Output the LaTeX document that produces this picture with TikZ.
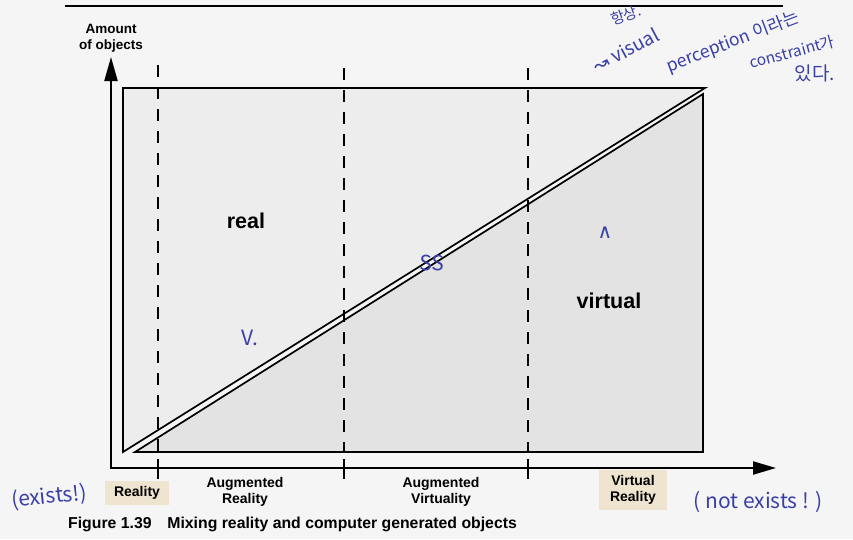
\documentclass[tikz,border=0pt]{standalone}
\usepackage{fontspec}
\setmainfont{Liberation Sans}
\newfontfamily\handfont{Noto Sans CJK KR}
\newfontfamily\symfont{DejaVu Sans}
\usetikzlibrary{arrows.meta}
\definecolor{PageGray}{HTML}{F5F5F5}
\definecolor{RealFill}{HTML}{EDEDED}
\definecolor{VirtFill}{HTML}{E3E3E3}
\definecolor{MarkerBeige}{HTML}{EEE4D0}
\definecolor{PenBlue}{HTML}{3A3FA8}
\tikzset{
    % regions - sharp corners
    realtri/.style={
        draw=black,
        line width=1.7,
        fill=RealFill,
        line join=miter
    },
    virttri/.style={
        draw=black,
        line width=1.7,
        fill=VirtFill,
        line join=miter
    },
    % lines
    divider/.style={
        draw=black,
        line width=1.6,
        dash pattern=on 12pt off 10pt
    },
    tickmark/.style={
        draw=black,
        line width=1.6
    },
    axisline/.style={
        draw=black,
        line width=2.2,
        line join=miter,
        {Triangle[length=24pt,width=13pt]}-{Triangle[length=23pt,width=13pt]}
    },
    % text
    axislabel/.style={
        align=center,
        font=\bfseries\fontsize{13.5}{16}\selectfont
    },
    arealabel/.style={
        font=\bfseries\fontsize{21.5}{24}\selectfont
    },
    scalelabel/.style={
        align=center,
        inner sep=0pt,
        font=\bfseries\fontsize{14}{16}\selectfont
    },
    marker/.style={
        fill=MarkerBeige,
        inner xsep=9pt,
        inner ysep=5pt
    },
    captiontext/.style={
        anchor=west,
        inner sep=0pt,
        font=\bfseries\fontsize{15.8}{18}\selectfont
    },
    note/.style={
        text=PenBlue,
        inner sep=0pt,
        font=\handfont\fontsize{21}{24}\selectfont
    }
}
\begin{document}
\begin{tikzpicture}[x=1pt,y=-1pt]
    \fill[PageGray] (0,0) rectangle (853,539);
    \useasboundingbox (0,0) rectangle (853,539);

    \draw[line width=1.6] (65,6) -- (783,6);

    % real and virtual parts
    \draw[realtri] (123,88) -- (705,88) -- (123,452) -- cycle;
    \draw[virttri] (703,94) -- (703,452) -- (135,452) -- cycle;

    % continuum borders
    \draw[divider] (158,65) -- (158,452);
    \draw[divider] (344,68) -- (344,452);
    \draw[divider] (528,68) -- (528,452);

    % axes
    \coordinate (ytop) at (111,57);
    \coordinate (origin) at (111,468);
    \coordinate (xend) at (776,468);
    \draw[axisline] (ytop) -- (origin) -- (xend);
    \foreach \x in {158,344,528}
        \draw[tickmark] (\x,459) -- (\x,479);

    \node[axislabel] (amount) at (111,38) {Amount\\of objects};
    \node[arealabel] (real) at (246,221) {real};
    \node[arealabel] (virtual) at (609,301) {virtual};

    \node[scalelabel,marker] (reality) at (137,493) {Reality};
    \node[scalelabel] (augreal) at (245,492) {Augmented\\Reality};
    \node[scalelabel] (augvirt) at (441,492) {Augmented\\Virtuality};
    \node[scalelabel,marker,inner xsep=11pt] (virtreal) at (633,490) {Virtual\\Reality};

    \node[captiontext] (caption) at (68,524) {Figure 1.39\hspace{1em}Mixing reality and computer generated objects};

    % pen notes
    \node[note,rotate=6] (exists) at (49,497) {(exists!)};
    \node[note] (notexists) at (758,502) {( not exists ! )};
    \node[note,rotate=-2] (ss) at (432,263) {SS};
    \node[note] (vmark) at (250,338) {V.};
    \node[note,font=\symfont\fontsize{20}{22}\selectfont] (hat) at (605,233) {∧};
    \node[note,font=\handfont\fontsize{15}{17}\selectfont,rotate=20] (always) at (626,15) {항상.};
    \node[note,font=\handfont\fontsize{19}{22}\selectfont,rotate=28] (visual) at (626,50) {{\symfont ↝} visual};
    \node[note,font=\handfont\fontsize{17.5}{20}\selectfont,rotate=21] (perception) at (733,42) {perception 이라는};
    \node[note,font=\handfont\fontsize{15.5}{18}\selectfont,rotate=15] (constraint) at (792,52) {constraint가};
    \node[note,font=\handfont\fontsize{19}{22}\selectfont] (exist) at (815,73) {있다.};
\end{tikzpicture}
\end{document}
